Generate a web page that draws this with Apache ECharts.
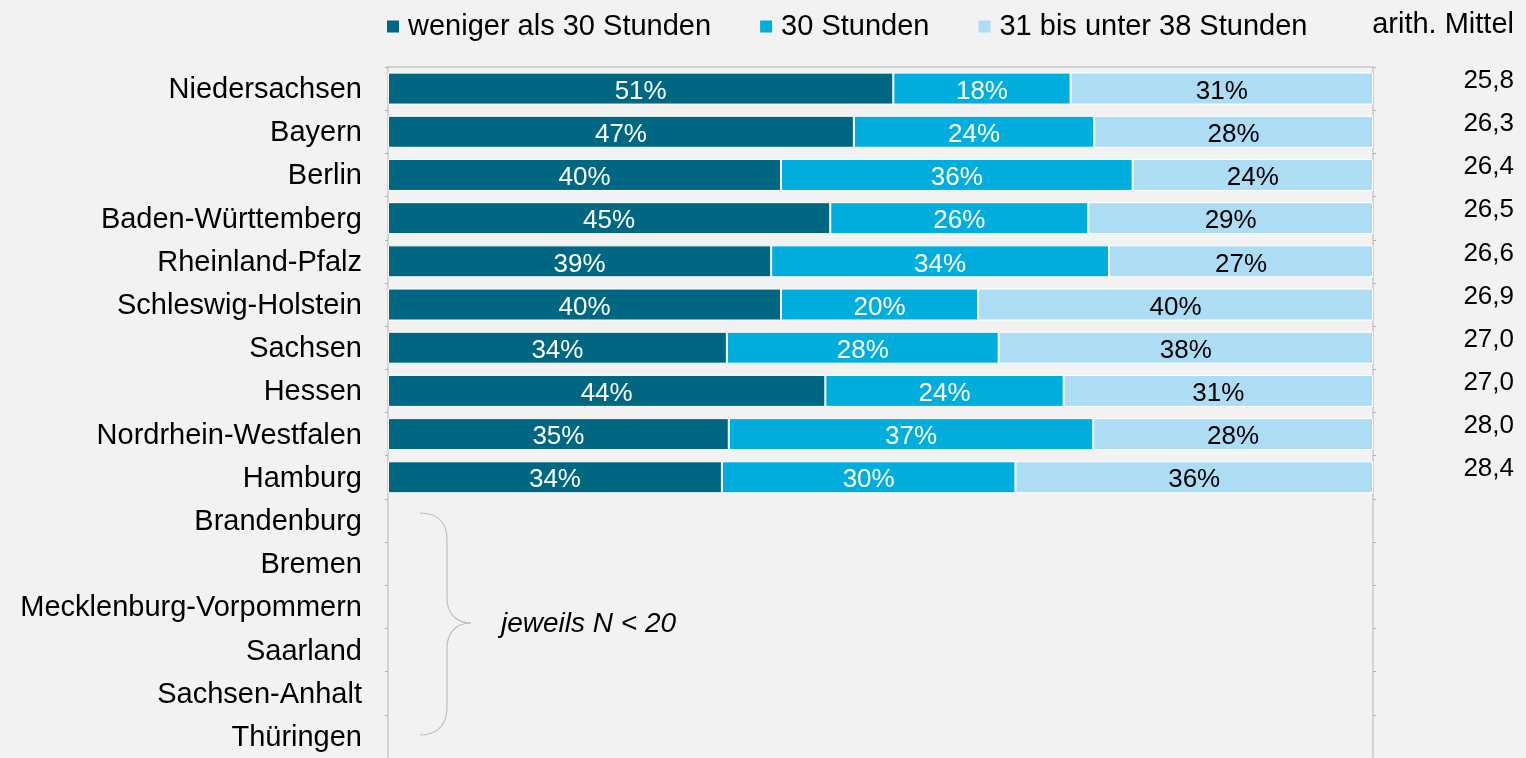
<!DOCTYPE html>
<html>
<head>
<meta charset="utf-8">
<script src="https://cdn.jsdelivr.net/npm/echarts@6/dist/echarts.min.js"></script>
<style>
html,body{margin:0;padding:0;background:#f2f2f2;}
#chart{width:1526px;height:758px;}
</style>
</head>
<body>
<div id="chart"></div>
<script>
const categories = ['Niedersachsen','Bayern','Berlin','Baden-Württemberg','Rheinland-Pfalz','Schleswig-Holstein','Sachsen','Hessen','Nordrhein-Westfalen','Hamburg','Brandenburg','Bremen','Mecklenburg-Vorpommern','Saarland','Sachsen-Anhalt','Thüringen'];
const seriesNames = ['weniger als 30 Stunden','30 Stunden','31 bis unter 38 Stunden'];
const under30 = [51.3, 47.3, 39.9, 44.9, 38.9, 39.9, 34.4, 44.4, 34.6, 33.9, null, null, null, null, null, null];
const exactly30 = [18.0, 24.4, 35.7, 26.2, 34.3, 20.0, 27.6, 24.2, 37.0, 29.8, null, null, null, null, null, null];
const from31to38 = [30.7, 28.3, 24.4, 28.9, 26.8, 40.1, 38.0, 31.4, 28.4, 36.3, null, null, null, null, null, null];
const means = ['25,8','26,3','26,4','26,5','26,6','26,9','27,0','27,0','28,0','28,4','','','','','',''];
const meanHeader = 'arith. Mittel';
const noteText = 'jeweils N < 20';

const FONT = "'Liberation Sans', Arial, sans-serif";
const colors = ['#006783', '#00AEDD', '#ADDCF5'];
const labelColors = ['#ffffff', '#ffffff', '#000000'];
const seriesData = [under30, exactly30, from31to38];

const chart = echarts.init(document.getElementById('chart'));

const series = seriesData.map((d, i) => ({
  name: seriesNames[i],
  type: 'bar',
  stack: 'total',
  barCategoryGap: '26%',
  data: d,
  itemStyle: { color: colors[i], borderColor: '#ffffff', borderWidth: 1 },
  label: {
    show: true,
    position: 'inside',
    offset: [0, 3],
    color: labelColors[i],
    fontFamily: FONT,
    fontSize: 26,
    formatter: p => (p.value == null ? '' : Math.round(p.value) + '%')
  },
  emphasis: { disabled: true }
}));

const braceStyle = { fill: null, stroke: '#bfbfbf', lineWidth: 1.2 };
const bz = (x1, y1, cpx1, cpy1, cpx2, cpy2, x2, y2) => ({
  type: 'bezierCurve', silent: true,
  shape: { x1, y1, cpx1, cpy1, cpx2, cpy2, x2, y2 }, style: braceStyle
});
const ln = (x1, y1, x2, y2) => ({
  type: 'line', silent: true, shape: { x1, y1, x2, y2 }, style: braceStyle
});

chart.setOption({
  backgroundColor: '#f2f2f2',
  animation: false,
  legend: {
    left: 382,
    top: 7,
    itemWidth: 12,
    itemHeight: 12,
    itemGap: 49,
    icon: 'rect',
    itemStyle: { borderWidth: 0 },
    textStyle: { fontFamily: FONT, fontSize: 29, color: '#000', padding: [0, 0, 0, 4] },
    data: seriesNames
  },
  grid: {
    left: 388,
    right: 153,
    top: 67,
    height: 696,
    containLabel: false
  },
  xAxis: {
    type: 'value',
    position: 'top',
    min: 0,
    max: 100,
    axisLine: { show: true, lineStyle: { color: '#c8c8c8', width: 1.5 } },
    axisTick: { show: false },
    axisLabel: { show: false },
    splitLine: { show: false }
  },
  yAxis: [
    {
      type: 'category',
      data: categories,
      inverse: true,
      axisLine: { show: true, lineStyle: { color: '#c8c8c8', width: 1.5 } },
      axisTick: { show: true, length: 3, lineStyle: { color: '#b0b0b0' } },
      axisLabel: { interval: 0, margin: 26, fontFamily: FONT, fontSize: 29, color: '#000', verticalAlign: 'top', lineHeight: 3 }
    },
    {
      type: 'category',
      data: means,
      inverse: true,
      position: 'right',
      axisLine: { show: true, lineStyle: { color: '#c8c8c8', width: 1.5 } },
      axisTick: { show: true, length: 3, lineStyle: { color: '#b0b0b0' } },
      axisLabel: { interval: 0, margin: 141, align: 'right', fontFamily: FONT, fontSize: 26, color: '#000', verticalAlign: 'bottom', lineHeight: 16 }
    }
  ],
  series: series,
  graphic: [
    {
      type: 'text',
      x: 1514,
      y: 25,
      style: { text: meanHeader, fontFamily: FONT, fontSize: 29, fill: '#000', textAlign: 'right', textVerticalAlign: 'middle' }
    },
    bz(420, 513, 440, 513, 447, 525, 447, 540),
    ln(447, 540, 447, 598),
    bz(447, 598, 447, 612, 455, 623, 471, 623),
    bz(471, 623, 455, 623, 447, 634, 447, 648),
    ln(447, 648, 447, 707),
    bz(447, 707, 447, 722, 440, 735, 420, 735),
    {
      type: 'text',
      x: 501,
      y: 624,
      style: { text: noteText, fontFamily: FONT, fontSize: 28, fontStyle: 'italic', fill: '#000', textAlign: 'left', textVerticalAlign: 'middle' }
    }
  ]
});
</script>
</body>
</html>
